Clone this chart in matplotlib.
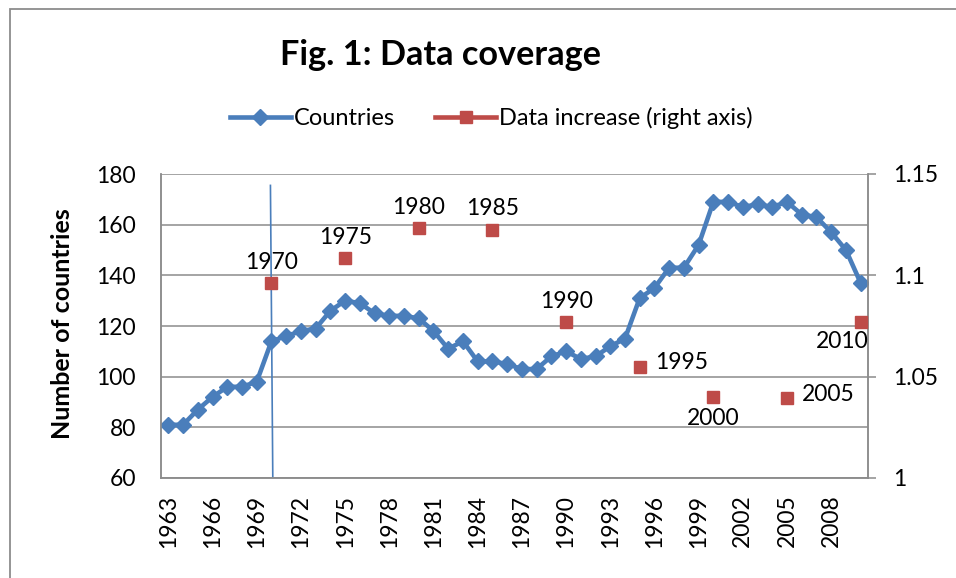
import matplotlib.pyplot as plt
from matplotlib.lines import Line2D
from matplotlib.patches import Rectangle

plt.rcParams['font.family'] = ['Lato', 'DejaVu Sans']

years = list(range(1963, 2011))
countries = [81, 81, 87, 92, 96, 96, 98, 114, 116, 118, 119, 126, 130, 129,
             125, 124, 124, 123, 118, 111, 114, 106, 106, 105, 103, 103, 108,
             110, 107, 108, 112, 115, 131, 135, 143, 143, 152, 169, 169, 167,
             168, 167, 169, 164, 163, 157, 150, 137]

inc_years = [1970, 1975, 1980, 1985, 1990, 1995, 2000, 2005, 2010]
inc_values = [1.096, 1.1085, 1.1234, 1.1225, 1.0768, 1.055, 1.0401, 1.0393, 1.0768]
inc_label_pos = ['above', 'above', 'above', 'above', 'above', 'right', 'below', 'right', 'belowleft']

left_ticks = [60, 80, 100, 120, 140, 160, 180]
right_ticks = [1, 1.05, 1.1, 1.15]
right_tick_labels = ['1', '1.05', '1.1', '1.15']

blue = '#4A7EBB'
red = '#BE4B48'
grey = '#8C8C8C'
fs = 16.5

fig = plt.figure(figsize=(9.56, 5.78), dpi=100)
fig.patches.append(Rectangle((10 / 956, -0.1), 1.2, 1 - 9 / 578 + 0.1, transform=fig.transFigure,
                             fill=False, edgecolor=grey, linewidth=1.3, zorder=0))

ax = fig.add_axes([161 / 956, 1 - 478 / 578, 707 / 956, 304 / 578])
ax2 = ax.twinx()

idx = list(range(len(years)))
ax.set_xlim(-0.5, len(years) - 0.5)
ax.set_ylim(60, 180)
ax.set_yticks(left_ticks)
ax.grid(axis='y', color=grey, linewidth=1.1)
ax.set_axisbelow(True)
ax.set_xticks(idx[::3])
ax.set_xticklabels([str(y) for y in years[::3]], rotation=90)
ax.tick_params(axis='x', length=0, pad=12, labelsize=fs)
ax.tick_params(axis='y', length=0, pad=18, labelsize=fs)

ax.plot(idx, countries, color=blue, linewidth=3.3, marker='D', markersize=8.5, zorder=3)

# vertical marker line at 1970
i70 = years.index(1970)
ax.plot([i70 - 0.07, i70 + 0.09], [175.5, 60], color=blue, linewidth=1.2, zorder=2)

ax2.set_ylim(1, 1.15)
ax2.set_yticks(right_ticks)
ax2.set_yticklabels(right_tick_labels)
ax2.tick_params(axis='y', length=6, width=1.1, color=grey, pad=12, labelsize=fs)

inc_idx = [years.index(y) for y in inc_years]
ax2.plot(inc_idx, inc_values, linestyle='none', marker='s', markersize=8.5, color=red, zorder=4)

offsets = {'above': ((0, 15), 'center'), 'below': ((0, -16), 'center'),
           'right': ((11, 3), 'left'), 'belowleft': ((-13, -14), 'center')}
for i, v, yr, pos in zip(inc_idx, inc_values, inc_years, inc_label_pos):
    off, ha = offsets[pos]
    ax2.annotate(str(yr), (i, v), xytext=off, textcoords='offset points',
                 ha=ha, va='center', fontsize=fs, zorder=5)

for a in (ax, ax2):
    a.spines['top'].set_visible(False)
    for s in ('left', 'right', 'bottom'):
        a.spines[s].set_color(grey)
        a.spines[s].set_linewidth(1.1)

fig.text(441 / 956, 1 - 55 / 578, 'Fig. 1: Data coverage', ha='center', va='center',
         fontsize=24.7, fontweight='bold')
fig.text(62 / 956, 1 - 324 / 578, 'Number of countries', rotation=90, ha='center',
         va='center', fontsize=18, fontweight='bold')

handles = [Line2D([], [], color=blue, linewidth=3.3, marker='D', markersize=8.5),
           Line2D([], [], color=red, linewidth=3.3, marker='s', markersize=8.5)]
fig.legend(handles, ['Countries', 'Data increase (right axis)'], loc='center', ncol=2,
           bbox_to_anchor=(491 / 956, 1 - 118 / 578), frameon=False, fontsize=17,
           handlelength=2.6, handletextpad=0.1, columnspacing=1.7)

fig.savefig('out.png', dpi=100)
